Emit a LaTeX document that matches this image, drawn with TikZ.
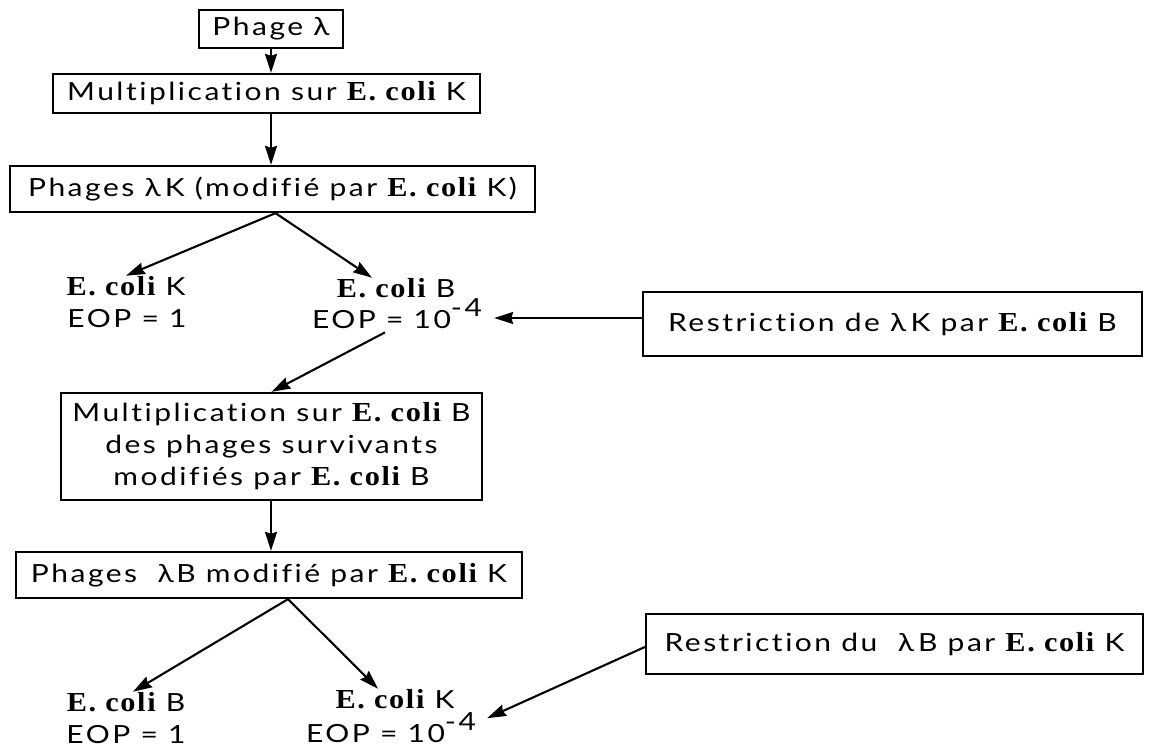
\documentclass[tikz,border=0pt]{standalone}
\usepackage{fontspec}
\setmainfont{Lato}[FakeStretch=1.2,LetterSpace=10,Ligatures={NoCommon}]
\newfontfamily\ecfont{Liberation Serif}[Scale=1.1,FakeStretch=1.1,LetterSpace=6,Ligatures={NoCommon}]
\newcommand\ec{{\ecfont\bfseries E. coli}}
\newcommand\supm{\raisebox{12pt}{-4}}
\usetikzlibrary{arrows.meta,calc}
\begin{document}
\begin{tikzpicture}[x=1pt,y=-1pt,
  every node/.style={font=\fontsize{25}{32}\selectfont},
  box/.style={draw,line width=2.3pt,inner sep=0pt,align=center},
  lab/.style={inner sep=0pt,anchor=base},
  arr/.style={line width=2.1pt,-{Stealth[length=19pt,width=12pt,inset=2pt]}}]
\useasboundingbox (0,0) rectangle (1150,751);
% boxes
\node[box,minimum width=144pt,minimum height=38pt] (b1) at (271,29) {Phage λ};
\node[box,minimum width=427pt,minimum height=39pt] (b2) at (266.5,93.5) {Multiplication sur \ec{} K};
\node[box,minimum width=525pt,minimum height=46pt] (b3) at (272.5,189) {Phages λ\,K (modifié par \ec{} K)};
\node[box,minimum width=421pt,minimum height=107pt] (b4) at (271.5,446.5) {Multiplication sur \ec{} B\\des phages survivants\\modifiés par \ec{} B};
\node[box,minimum width=506pt,minimum height=46pt] (b5) at (269,575) {Phages \ λB modifié par \ec{} K};
\node[box,minimum width=499pt,minimum height=64pt] (r1) at (892.5,324) {Restriction de λ\,K par \ec{} B};
\node[box,minimum width=497pt,minimum height=60pt] (r2) at (894.5,644) {Restriction du \ λ\,B par \ec{} K};
% labels
\node[lab] (eKa) at (126,295) {\ec{} K};
\node[lab] (eKb) at (127,327) {EOP = 1};
\node[lab] (eBa) at (396,297) {\ec{} B};
\node[lab] (eBb) at (397,328) {EOP = 10\supm};
\node[lab] (bBa) at (126,711) {\ec{} B};
\node[lab] (bBb) at (126,743) {EOP = 1};
\node[lab] (bKa) at (395,708) {\ec{} K};
\node[lab] (bKb) at (391,742) {EOP = 10\supm};
% connectors
\draw[arr] (b1.south) -- (b1.south |- b2.north);
\draw[arr] (b1.south |- b2.south) -- (b1.south |- b3.north);
\draw[arr] ($(b3.south)+(3,0)$) -- (eKa.north);
\draw[arr] ($(b3.south)+(3,0)$) -- ($(eBa.north)+(-24,0)$);
\draw[arr] ($(r1.west)+(0,-6)$) -- ($(r1.west -| eBb.east)+(12,-6)$);
\draw[arr] ($(eBb.south)+(-12,4)$) -- (b4.north);
\draw[arr] (b1.south |- b4.south) -- (b1.south |- b5.north);
\draw[arr] ($(b5.south)+(19,0)$) -- ($(bBa.north)+(7,0)$);
\draw[arr] ($(b5.south)+(19,0)$) -- ($(bKa.north)+(-17,0)$);
\draw[arr] ($(r2.west)+(0,3)$) -- ($(bKb.east)+(11,-9)$);
\end{tikzpicture}
\end{document}
